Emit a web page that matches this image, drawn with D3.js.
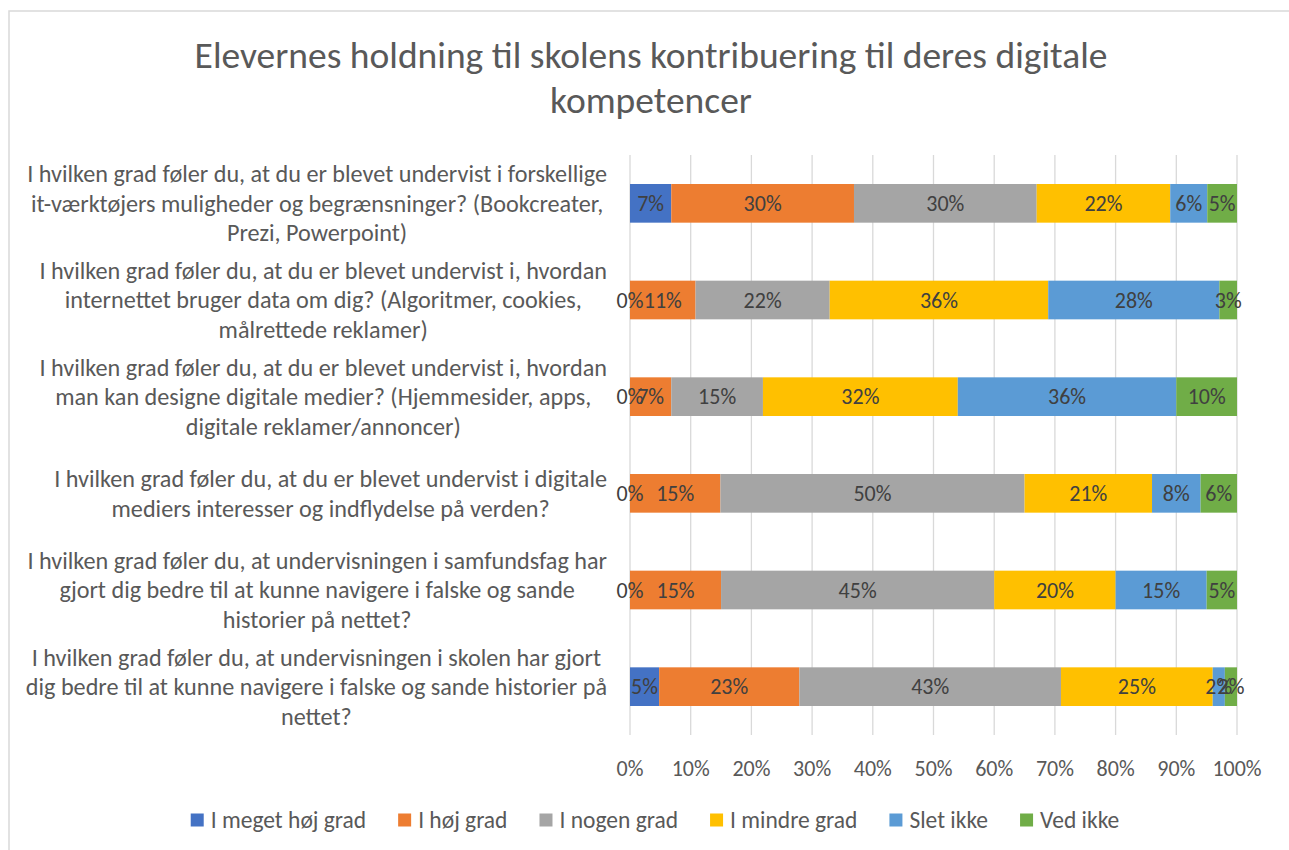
<!DOCTYPE html>
<html><head><meta charset="utf-8">
<script src="https://cdn.jsdelivr.net/npm/d3@7"></script>
<style>
html,body{margin:0;padding:0;background:#fff;}
svg{display:block;font-family:Carlito, Lato, "Open Sans", sans-serif;}
</style></head>
<body>
<svg id="chart" width="1289" height="850"></svg>
<script>
const titleLines = ["Elevernes holdning til skolens kontribuering til deres digitale", "kompetencer"];
const categories = [
  ["I hvilken grad føler du, at du er blevet undervist i forskellige", "it-værktøjers muligheder og begrænsninger? (Bookcreater,", "Prezi, Powerpoint)"],
  ["I hvilken grad føler du, at du er blevet undervist i, hvordan", "internettet bruger data om dig? (Algoritmer, cookies,", "målrettede reklamer)"],
  ["I hvilken grad føler du, at du er blevet undervist i, hvordan", "man kan designe digitale medier? (Hjemmesider, apps,", "digitale reklamer/annoncer)"],
  ["I hvilken grad føler du, at du er blevet undervist i digitale", "mediers interesser og indflydelse på verden?"],
  ["I hvilken grad føler du, at undervisningen i samfundsfag har", "gjort dig bedre til at kunne navigere i falske og sande", "historier på nettet?"],
  ["I hvilken grad føler du, at undervisningen i skolen har gjort", "dig bedre til at kunne navigere i falske og sande historier på", "nettet?"]
];
const seriesNames = ["I meget høj grad", "I høj grad", "I nogen grad", "I mindre grad", "Slet ikke", "Ved ikke"];
const seriesColors = ["#4472C4", "#ED7D31", "#A5A5A5", "#FFC000", "#5B9BD5", "#70AD47"];
// values in percent, per series, in category order
const meget = [6.8, 0, 0, 0, 0, 4.8];
const hoej   = [30.1, 10.8, 6.8, 14.9, 15.0, 23.1];
const nogen  = [30.1, 22.1, 15.1, 50.1, 45.0, 43.1];
const mindre = [22.0, 36.0, 32.1, 21.0, 20.0, 25.0];
const slet   = [6.1, 28.2, 36.0, 8.0, 15.0, 2.0];
const vedikke= [4.9, 2.9, 10.0, 6.0, 5.0, 2.0];
const seriesValues = [meget, hoej, nogen, mindre, slet, vedikke];
const tickValues = [0,10,20,30,40,50,60,70,80,90,100];

const svg = d3.select("#chart");

const catSize = 24.2, labelSize = 22, tickSize = 22, legendSize = 23.5, titleSize = 37.5;

// frame
svg.append("rect").attr("x",9).attr("y",11).attr("width",1300).attr("height",860)
  .attr("fill","none").attr("stroke","#d9d9d9").attr("stroke-width",1.5);

// title
svg.append("g").selectAll("text").data(titleLines).join("text")
  .attr("x",651).attr("y",(d,i)=>55+i*45).attr("dy","0.35em")
  .attr("text-anchor","middle").attr("font-size",titleSize).attr("fill","#595959")
  .text(d=>d);

const x = d3.scaleLinear().domain([0,100]).range([630,1237]);
const y = d3.scaleBand().domain(d3.range(categories.length)).range([155,735]).paddingInner(0.6).paddingOuter(0.3);

// gridlines
svg.append("g").selectAll("line").data(tickValues).join("line")
  .attr("x1",d=>x(d)).attr("x2",d=>x(d)).attr("y1",155).attr("y2",735)
  .attr("stroke","#d9d9d9").attr("stroke-width",1.3);

// stacked data
const rows = categories.map((c,i)=>{
  let acc=0;
  return seriesValues.map((vals,s)=>{ const v=vals[i]; const seg={cat:i,s,v,x0:acc,x1:acc+v}; acc+=v; return seg; });
});
const segs = rows.flat();

svg.append("g").selectAll("rect").data(segs).join("rect")
  .attr("x",d=>x(d.x0)).attr("width",d=>x(d.x1)-x(d.x0))
  .attr("y",d=>y(d.cat)).attr("height",y.bandwidth())
  .attr("fill",d=>seriesColors[d.s]);

const fmt = d3.format(".0%");
svg.append("g").selectAll("text").data(segs).join("text")
  .attr("x",d=>x((d.x0+d.x1)/2)).attr("y",d=>y(d.cat)+y.bandwidth()/2)
  .attr("dy","0.35em").attr("text-anchor","middle")
  .attr("font-size",labelSize).attr("fill","#404040")
  .text(d=>fmt(d.v/100));

// category labels
const lineH = 29.5;
const catG = svg.append("g");
categories.forEach((lines,i)=>{
  const g = catG.append("g");
  const cy = y(i)+y.bandwidth()/2;
  const ts = g.selectAll("text").data(lines).join("text")
    .attr("y",(d,j)=>cy+(j-(lines.length-1)/2)*lineH)
    .attr("dy","0.35em").attr("text-anchor","middle")
    .attr("font-size",catSize).attr("fill","#595959").text(d=>d);
  let maxW=0; ts.each(function(){maxW=Math.max(maxW,this.getComputedTextLength());});
  ts.attr("x",607-maxW/2);
});

// x axis tick labels
svg.append("g").selectAll("text").data(tickValues).join("text")
  .attr("x",d=>x(d)).attr("y",768).attr("dy","0.35em").attr("text-anchor","middle")
  .attr("font-size",tickSize).attr("fill","#595959").text(d=>fmt(d/100));

// legend
const lg = svg.append("g");
const items = lg.selectAll("g").data(seriesNames).join("g");
items.append("rect").attr("width",13).attr("height",13).attr("y",-6.5).attr("fill",(d,i)=>seriesColors[i]);
items.append("text").attr("x",20).attr("dy","0.35em").attr("font-size",legendSize).attr("fill","#595959").text(d=>d);
let pos=0; const offs=[];
items.each(function(){ const w=20+d3.select(this).select("text").node().getComputedTextLength(); offs.push(pos); pos+=w+32; });
const total = pos-32;
const startX = 655 - total/2;
items.attr("transform",(d,i)=>`translate(${startX+offs[i]},820)`);
</script>
</body></html>
